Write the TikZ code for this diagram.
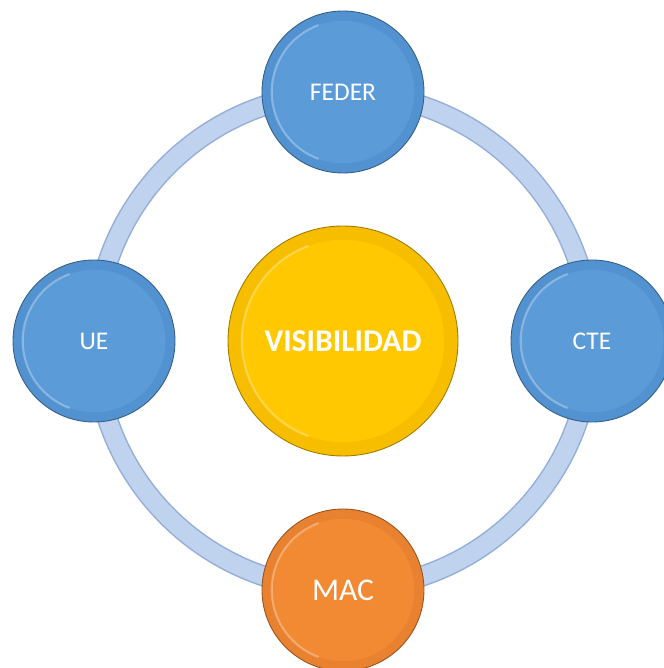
\documentclass[tikz,border=0pt]{standalone}
\usepackage{fontspec}
\setmainfont{Carlito}
\usetikzlibrary{calc}
\definecolor{ringfill}{HTML}{BFD2EE}
\definecolor{ringedge}{HTML}{94AED8}
\definecolor{bluerim}{HTML}{5292D0}
\definecolor{blueface}{HTML}{5B9BD8}
\definecolor{yellowrim}{HTML}{F7BE00}
\definecolor{yellowface}{HTML}{FFC800}
\definecolor{orangerim}{HTML}{E88130}
\definecolor{orangeface}{HTML}{F28A33}
\tikzstyle{bubbletext} = [text=white, font=\fontsize{14.5}{17}\selectfont]
\tikzset{
  bubble/.style n args={3}{circle, inner sep=0pt, minimum size=2*#3cm,
    fill=#1, draw=#1!65!black, line width=0.5pt, bubbletext,
    path picture={
      \fill[#2] (path picture bounding box.center) circle (0.88*#3cm);
      \draw[white, opacity=0.3, line width=1.2pt] (path picture bounding box.center)
        ++(110:0.88*#3cm) arc (110:250:0.88*#3cm);
    }}
}

\begin{document}
\begin{tikzpicture}
  \useasboundingbox (0,0) rectangle (13.28,13.36);
  \clip (0,0) rectangle (13.28,13.36);
  \coordinate (mid) at (6.86,6.54);
  % Ring
  \draw[ringedge, line width=0.42cm] (mid) circle (4.96);
  \draw[ringfill, line width=0.36cm] (mid) circle (4.96);
  % Centre
  \node[bubble={yellowrim}{yellowface}{2.3}, font=\fontsize{18}{21}\bfseries] (vis) at (mid) {VISIBILIDAD};
  % Outer nodes
  \foreach \name/\ang/\txt in {feder/90/FEDER, cte/0/CTE, ue/180/UE} {
    \node[bubble={bluerim}{blueface}{1.62}] (\name) at ($(mid)+(\ang:4.98)$) {\txt};
  }
  \node[bubble={orangerim}{orangeface}{1.62}, font=\fontsize{18}{21}\selectfont] (mac) at ($(mid)+(270:4.98)$) {MAC};
\end{tikzpicture}
\end{document}
